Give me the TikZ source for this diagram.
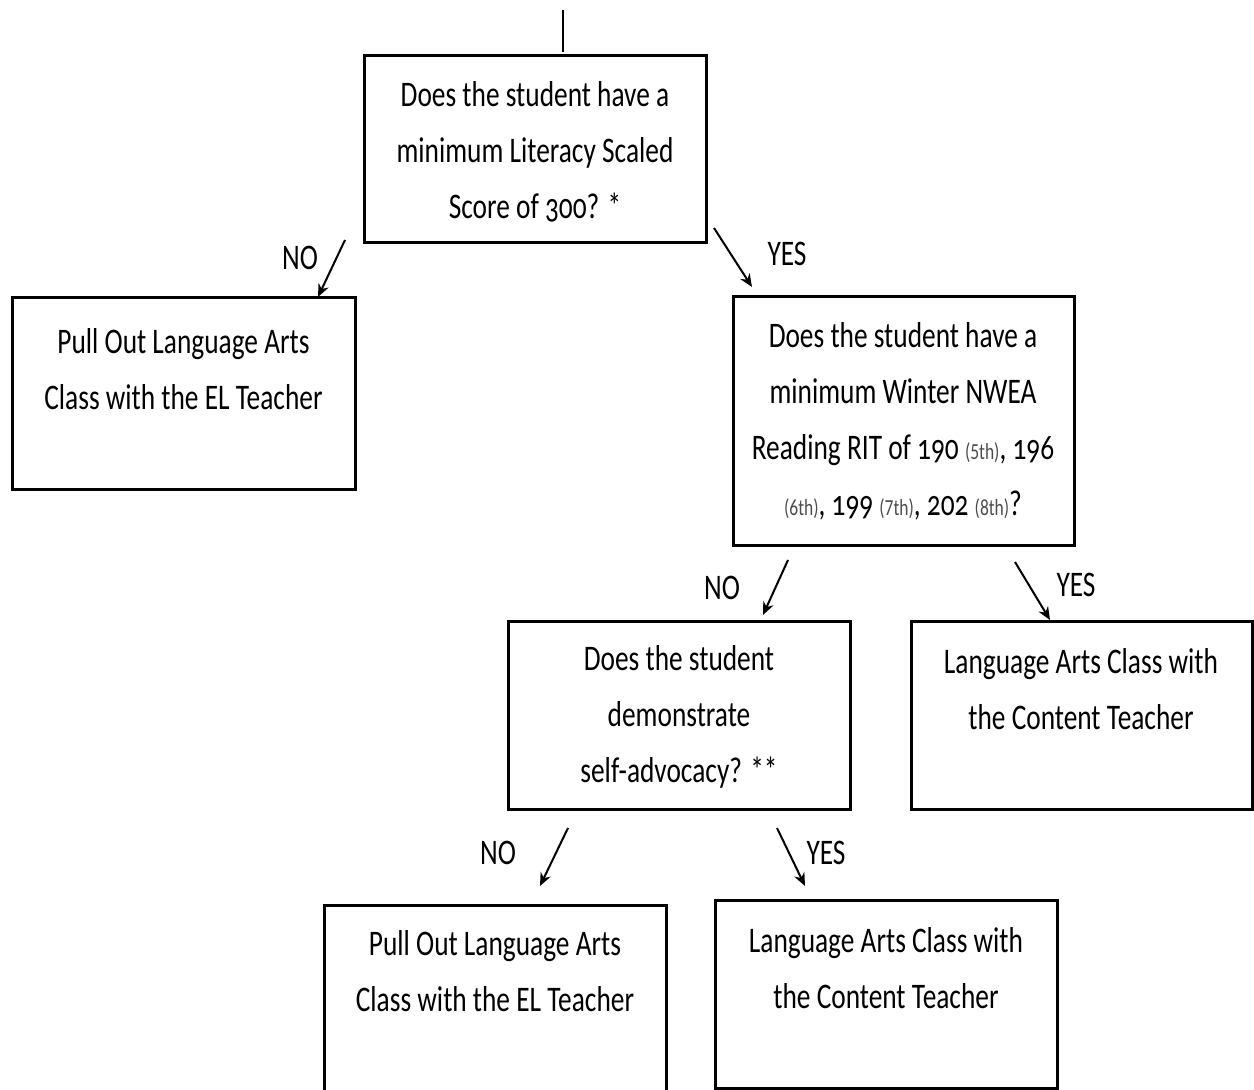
\documentclass[tikz,border=0pt]{standalone}
\usepackage{fontspec}
\setmainfont{Carlito}[FakeStretch=0.76]
\usetikzlibrary{arrows.meta}
\newcommand{\onum}[1]{{\addfontfeatures{Numbers=OldStyle}#1}}
\newcommand{\grd}[1]{{\fontsize{11.5}{11.5}\selectfont\color{black!70}#1}}
\begin{document}
\begin{tikzpicture}[x=0.5pt,y=-0.5pt,
  box/.style={draw,line width=1.5pt,rectangle,inner sep=0pt,outer sep=0pt},
  txt/.style={align=center,font=\fontsize{18}{28}\selectfont,inner sep=0pt},
  lab/.style={font=\fontsize{18}{28}\selectfont,inner sep=0pt},
  arr/.style={line width=1pt,-{Stealth[length=6.5pt,width=5.5pt]}}]
\useasboundingbox (0,0) rectangle (1254,1090);
% boxes
\node[box,minimum width=171pt,minimum height=93.5pt] (b1) at (535,149.5) {};
\node[box,minimum width=171.5pt,minimum height=96pt] (po1) at (183.5,394) {};
\node[box,minimum width=170.5pt,minimum height=124.5pt] (b2) at (903.5,421.5) {};
\node[box,minimum width=171pt,minimum height=94pt] (b3) at (679,716) {};
\node[box,minimum width=170.5pt,minimum height=94pt] (la1) at (1081.5,716) {};
\node[inner sep=0pt,outer sep=0pt,minimum width=171pt,minimum height=92.5pt] (po2) at (495,997.5) {};
\draw[line width=1.5pt] (po2.south west) -- (po2.north west) -- (po2.north east) -- (po2.south east);
\node[box,minimum width=171pt,minimum height=94pt] (la2) at (886,994) {};
% texts
\node[txt] (t1) at (535,152) {Does the student have a\\minimum Literacy Scaled\\Score of \onum{300}? *};
\node[txt] (tpo1) at (183.5,369) {Pull Out Language Arts\\Class with the EL Teacher};
\node[txt] (t2) at (903,421) {Does the student have a\\minimum Winter NWEA\\Reading RIT of \onum{190} \grd{(5th)}, \onum{196}\\\grd{(6th)}, \onum{199} \grd{(7th)}, \onum{202} \grd{(8th)}?};
\node[txt] (t3) at (679,717) {Does the student\\demonstrate\\self-advocacy? **};
\node[txt] (tla1) at (1081,689) {Language Arts Class with\\the Content Teacher};
\node[txt] (tpo2) at (495,971) {Pull Out Language Arts\\Class with the EL Teacher};
\node[txt] (tla2) at (886,968) {Language Arts Class with\\the Content Teacher};
% labels
\node[lab] (n1) at (300,258) {NO};
\node[lab] (y1) at (787,254) {YES};
\node[lab] (n2) at (722,588) {NO};
\node[lab] (y2) at (1076,585) {YES};
\node[lab] (n3) at (498,853) {NO};
\node[lab] (y3) at (826,853) {YES};
% connector coordinates
\coordinate (top) at (563,10);
\coordinate (topend) at (563,52);
\coordinate (a1s) at (345,240); \coordinate (a1e) at (318,297);
\coordinate (a2s) at (714,228); \coordinate (a2e) at (752,287);
\coordinate (a3s) at (788,560); \coordinate (a3e) at (763,615);
\coordinate (a4s) at (1015,562); \coordinate (a4e) at (1050,620);
\coordinate (a5s) at (568,828); \coordinate (a5e) at (540,886);
\coordinate (a6s) at (777,828); \coordinate (a6e) at (805,886);
\draw[line width=1pt] (top) -- (topend);
\draw[arr] (a1s) -- (a1e);
\draw[arr] (a2s) -- (a2e);
\draw[arr] (a3s) -- (a3e);
\draw[arr] (a4s) -- (a4e);
\draw[arr] (a5s) -- (a5e);
\draw[arr] (a6s) -- (a6e);
\end{tikzpicture}
\end{document}
